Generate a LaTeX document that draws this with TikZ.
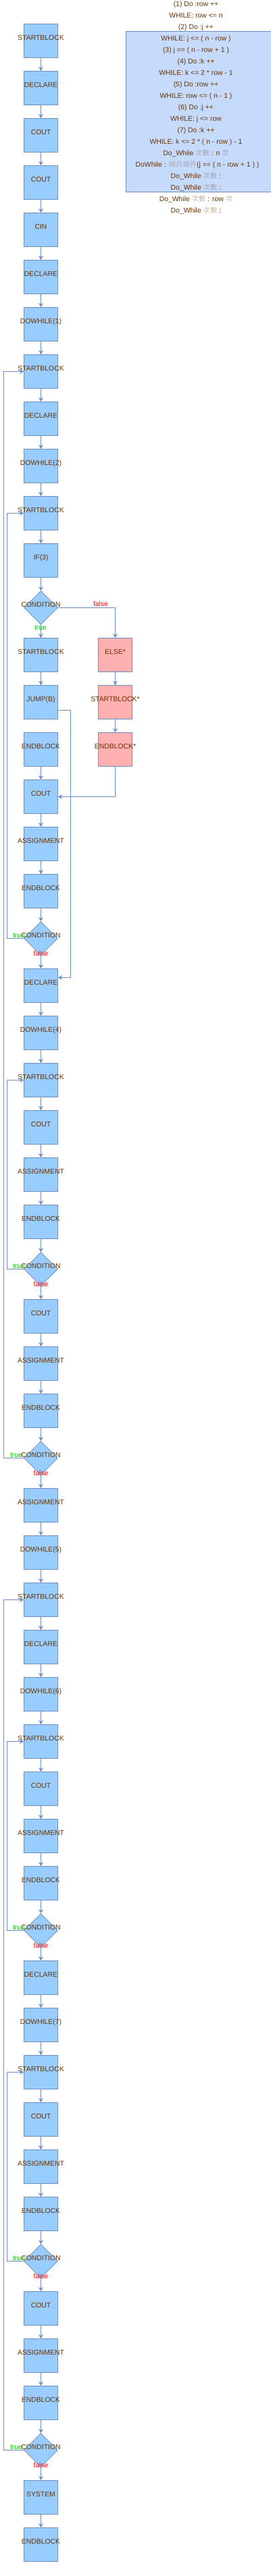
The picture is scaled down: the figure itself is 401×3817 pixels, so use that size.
\documentclass[tikz,border=0pt]{standalone}
\usepackage{fontspec}
\setmainfont{Liberation Sans}
\newfontfamily\cjkfont{Noto Sans CJK TC}
\usetikzlibrary{shapes.geometric,arrows.meta}
\definecolor{boxfill}{HTML}{99CCFF}
\definecolor{edgecol}{HTML}{6C8EBF}
\definecolor{txtcol}{HTML}{663300}
\definecolor{pinkfill}{HTML}{FFB0B0}
\definecolor{infofill}{HTML}{C6DAFC}
\definecolor{zhW}{HTML}{CDB9A5}
\definecolor{zhB}{HTML}{A5A8B8}
\definecolor{truecol}{HTML}{00CC00}
\definecolor{falsecol}{HTML}{FF0000}
\newcommand\zhw[1]{{\cjkfont\color{zhW}#1}}
\newcommand\zhb[1]{{\cjkfont\color{zhB}#1}}
\begin{document}
\begin{tikzpicture}[x=1pt,y=-1pt,
  font=\fontsize{10.4}{12}\selectfont,
  box/.style={draw=edgecol,fill=boxfill,line width=0.9pt,minimum width=50pt,minimum height=50pt,inner sep=0pt},
  pbox/.style={box,fill=pinkfill},
  dia/.style={diamond,draw=edgecol,fill=boxfill,line width=0.7pt,minimum width=50pt,minimum height=50pt,inner sep=0pt},
  txt/.style={text=txtcol,inner sep=0pt,anchor=base,yshift=1.3pt},
  info/.style={text=txtcol,inner sep=0pt,anchor=base},
  arr/.style={draw=edgecol,line width=0.9pt,-{Stealth[length=6pt,width=7pt,inset=2pt]}},
  tlab/.style={text=truecol,inner sep=0pt,anchor=base},
  flab/.style={text=falsecol,inner sep=0pt,anchor=base}]
\useasboundingbox (0,0) rectangle (401,3817);

% info panel
\node[draw=edgecol,fill=infofill,line width=0.9pt,minimum width=215pt,minimum height=238pt,inner sep=0pt,anchor=north west] (panel) at (185.5,45.5) {};
\node[info] (i1)  at (290,9.7)   {(1) Do :row ++};
\node[info] (i2)  at (290,26.7)  {WHILE: row <= n};
\node[info] (i3)  at (290,43.7)  {(2) Do :j ++};
\node[info] (i4)  at (290,60.7)  {WHILE: j <= ( n - row )};
\node[info] (i5)  at (290,77.7)  {(3) j == ( n - row + 1 )};
\node[info] (i6)  at (290,94.7)  {(4) Do :k ++};
\node[info] (i7)  at (290,111.7) {WHILE: k <= 2 * row - 1};
\node[info] (i8)  at (290,128.7) {(5) Do :row ++};
\node[info] (i9)  at (290,145.7) {WHILE: row <= ( n - 1 )};
\node[info] (i10) at (290,162.7) {(6) Do :j ++};
\node[info] (i11) at (290,179.7) {WHILE: j <= row};
\node[info] (i12) at (290,196.7) {(7) Do :k ++};
\node[info] (i13) at (290,213.7) {WHILE: k <= 2 * ( n - row ) - 1};
\node[info] (i14) at (290,230.7) {Do\_While \zhb{次數} : n \zhb{次}};
\node[info] (i15) at (292,247.7) {DoWhile : \zhb{哨兵條件}(j == ( n - row + 1 ) )};
\node[info] (i16) at (290,264.7) {Do\_While \zhb{次數} :};
\node[info] (i17) at (290,281.7) {Do\_While \zhb{次數} :};
\node[info] (i18) at (290,298.7) {Do\_While \zhw{次數} : row \zhw{次}};
\node[info] (i19) at (290,315.7) {Do\_While \zhw{次數} :};

% main column boxes
\foreach \k/\t in {0/STARTBLOCK,1/DECLARE,2/COUT,3/COUT,4/CIN,5/DECLARE,6/DOWHILE(1),
  7/STARTBLOCK,8/DECLARE,9/DOWHILE(2),10/STARTBLOCK,11/IF(3),13/STARTBLOCK,14/JUMP(B),
  15/ENDBLOCK,16/COUT,17/ASSIGNMENT,18/ENDBLOCK,20/DECLARE,21/DOWHILE(4),22/STARTBLOCK,
  23/COUT,24/ASSIGNMENT,25/ENDBLOCK,27/COUT,28/ASSIGNMENT,29/ENDBLOCK,31/ASSIGNMENT,
  32/DOWHILE(5),33/STARTBLOCK,34/DECLARE,35/DOWHILE(6),36/STARTBLOCK,37/COUT,38/ASSIGNMENT,
  39/ENDBLOCK,41/DECLARE,42/DOWHILE(7),43/STARTBLOCK,44/COUT,45/ASSIGNMENT,46/ENDBLOCK,
  48/COUT,49/ASSIGNMENT,50/ENDBLOCK,52/SYSTEM,53/ENDBLOCK}{
  \node[box] (n\k) at (60.5,{60.5+70*\k}) {};
  \node[txt] (l\k) at (n\k) {\t};
}
\foreach \k in {12,19,26,30,40,47,51}{
  \node[dia] (n\k) at (60.5,{60.5+70*\k}) {};
  \node[txt] (l\k) at (n\k) {CONDITION};
}

% else branch
\node[pbox] (e13) at (170.5,970.5) {};
\node[txt] (le13) at (e13) {ELSE*};
\node[pbox] (e14) at (170.5,1040.5) {};
\node[txt] (le14) at (e14) {STARTBLOCK*};
\node[pbox] (e15) at (170.5,1110.5) {};
\node[txt] (le15) at (e15) {ENDBLOCK*};

% chain
\foreach \k [remember=\k as \p (initially 0)] in {1,...,53}{
  \ifnum\k=15\relax\else\draw[arr] (n\p) -- (n\k);\fi
}

% if branch
\draw[arr] (n12.east) -| (e13.north);
\draw[arr] (e13) -- (e14);
\draw[arr] (e14) -- (e15);
\draw[arr] (e15.south) |- (n16.east);
\draw[arr] ([yshift=-12pt]n14.east) -- ++(18,0) |- ([yshift=12pt]n20.east);
\node[flab] (f12) at (149,898.7) {false};
\node[tlab] (t12) at (60,933.7) {true};

% loops
\draw[arr] (n19.west) -- ++(-25,0) |- (n10.west);
\draw[arr] (n26.west) -- ++(-25,0) |- (n22.west);
\draw[arr] (n30.west) -- ++(-30,0) |- (n7.west);
\draw[arr] (n40.west) -- ++(-25,0) |- (n36.west);
\draw[arr] (n47.west) -- ++(-25,0) |- (n43.west);
\draw[arr] (n51.west) -- ++(-30,0) |- (n33.west);

\foreach \k in {19,26,40,47}{
  \node[tlab,anchor=base east] (t\k) at ([xshift=2pt,yshift=1.3pt]n\k.west) {true};
}
\foreach \k in {30,51}{
  \node[tlab,anchor=base east] (t\k) at ([xshift=-2pt,yshift=1.3pt]n\k.west) {true};
}
\foreach \k in {19,26,30,40,47,51}{
  \node[flab] (f\k) at ([yshift=-26.3pt]n\k.center) {false};
}
\end{tikzpicture}
\end{document}
